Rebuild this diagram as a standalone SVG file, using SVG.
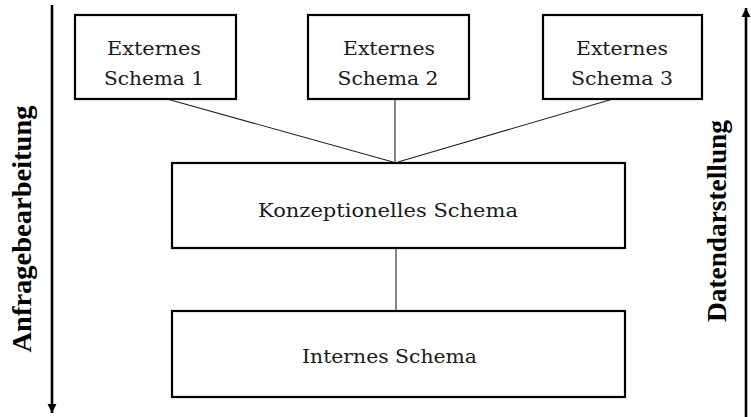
<svg xmlns="http://www.w3.org/2000/svg" width="751" height="417" viewBox="0 0 751 417">
  <style>
    .box { fill: #ffffff; stroke: #000000; stroke-width: 2.2; }
    .lbl { font-family: "DejaVu Serif", "Liberation Serif", serif; font-size: 19px; fill: #1a1a1a; text-anchor: middle; }
    .side { font-family: "Liberation Serif", "DejaVu Serif", serif; font-size: 27px; font-weight: bold; fill: #000000; text-anchor: middle; }
    .link { stroke: #222222; stroke-width: 1.1; fill: none; }
    .flow { stroke: #000000; stroke-width: 2.6; fill: none; }
  </style>
  <defs>
    <marker id="head" viewBox="0 0 10 10" refX="10" refY="5" markerWidth="3.6" markerHeight="3.6" orient="auto" markerUnits="strokeWidth">
      <path d="M0,0 L10,5 L0,10 z" fill="#000000"/>
    </marker>
  </defs>

  <rect width="751" height="417" fill="#ffffff"/>

  <!-- connectors -->
  <g id="connectors">
    <line class="link" x1="167" y1="99" x2="393" y2="162"/>
    <line class="link" x1="395" y1="99" x2="395" y2="163"/>
    <line class="link" x1="613" y1="99" x2="398" y2="162"/>
    <line class="link" x1="396" y1="248" x2="396" y2="311"/>
  </g>

  <!-- direction arrows with side captions -->
  <g id="anfragebearbeitung">
    <line class="flow" x1="52" y1="5" x2="52" y2="413" marker-end="url(#head)"/>
    <text class="side" transform="translate(31,229) rotate(-90)" textLength="247" lengthAdjust="spacingAndGlyphs">Anfragebearbeitung</text>
  </g>
  <g id="datendarstellung">
    <line class="flow" x1="746" y1="417" x2="746" y2="8" marker-end="url(#head)"/>
    <text class="side" transform="translate(726,221) rotate(-90)" textLength="202" lengthAdjust="spacingAndGlyphs">Datendarstellung</text>
  </g>

  <!-- schema nodes -->
  <g id="extern1">
    <rect class="box" x="75" y="15" width="161" height="84"/>
    <text class="lbl" x="154" y="55" textLength="94" lengthAdjust="spacingAndGlyphs">Externes</text>
    <text class="lbl" x="154" y="85" textLength="100" lengthAdjust="spacingAndGlyphs">Schema 1</text>
  </g>
  <g id="extern2">
    <rect class="box" x="308" y="15" width="161" height="84"/>
    <text class="lbl" x="389" y="55" textLength="92" lengthAdjust="spacingAndGlyphs">Externes</text>
    <text class="lbl" x="388" y="85" textLength="101" lengthAdjust="spacingAndGlyphs">Schema 2</text>
  </g>
  <g id="extern3">
    <rect class="box" x="543" y="15" width="159" height="84"/>
    <text class="lbl" x="622" y="55" textLength="92" lengthAdjust="spacingAndGlyphs">Externes</text>
    <text class="lbl" x="622" y="85" textLength="102" lengthAdjust="spacingAndGlyphs">Schema 3</text>
  </g>
  <g id="konzeptionell">
    <rect class="box" x="172" y="163" width="453" height="85"/>
    <text class="lbl" x="388" y="217" textLength="260" lengthAdjust="spacingAndGlyphs">Konzeptionelles Schema</text>
  </g>
  <g id="intern">
    <rect class="box" x="172" y="311" width="453" height="86"/>
    <text class="lbl" x="389.5" y="363" textLength="175" lengthAdjust="spacingAndGlyphs">Internes Schema</text>
  </g>
</svg>
